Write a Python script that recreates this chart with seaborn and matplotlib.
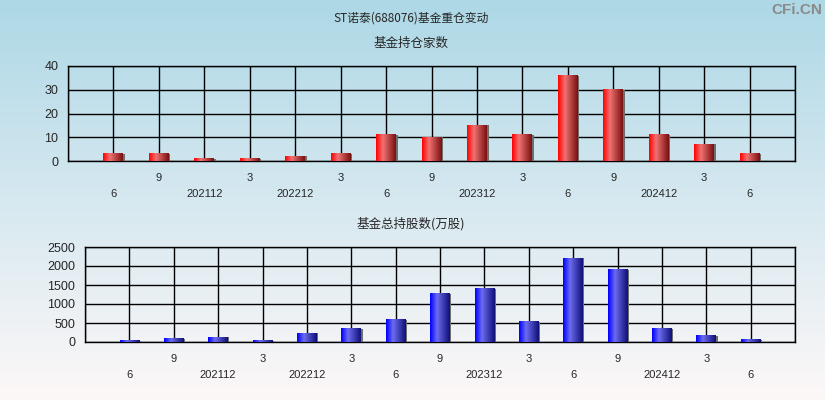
import numpy as np
import pandas as pd
import matplotlib
matplotlib.use('Agg')
import matplotlib.pyplot as plt
import seaborn as sns
from matplotlib.colors import LinearSegmentedColormap
from matplotlib.patches import Rectangle

# datos
periods = ['6', '9', '202112', '3', '202212', '3', '6', '9', '202312', '3', '6', '9', '202412', '3', '6']
fund_count = [3, 3, 1, 1, 2, 3, 11, 10, 15, 11, 36, 30, 11, 7, 3]
fund_shares = [35, 87, 120, 30, 225, 355, 590, 1265, 1400, 530, 2210, 1895, 350, 165, 60]

sns.set_style('white')
plt.rcParams['font.family'] = ['Liberation Sans', 'DejaVu Sans']
cjk = ['Noto Sans CJK SC', 'DejaVu Sans']

W, H = 825, 400
fig = plt.figure(figsize=(W / 100, H / 100), dpi=100)

# fondo degradado azul claro -> casi blanco
bg = fig.add_axes([0, 0, 1, 1], zorder=-10)
bg_cmap = LinearSegmentedColormap.from_list('bg', ['#add8e6', '#d6e8f0', '#fdf8f8'])
bg.imshow(np.linspace(0, 1, 256).reshape(-1, 1), cmap=bg_cmap, aspect='auto', extent=(0, 1, 0, 1))
bg.set_axis_off()

red_cmap = LinearSegmentedColormap.from_list('red', [(0, '#ff0000'), (0.35, '#f07272'), (1, '#7a1010')])
blue_cmap = LinearSegmentedColormap.from_list('blue', [(0, '#0000ff'), (0.35, '#6c6cf0'), (1, '#101078')])


def px(l, t, r, b):
    return [l / W, 1 - b / H, (r - l) / W, (b - t) / H]


def panel(ax, values, cmap, ymax, ystep):
    df = pd.DataFrame({'pos': np.arange(1, len(values) + 1), 'val': values})
    sns.barplot(data=df, x='pos', y='val', native_scale=True, orient='x', width=0.44, ax=ax, zorder=3)
    grad = np.linspace(0, 1, 64).reshape(1, -1)
    bars = list(ax.patches)
    for p in bars:
        x0, y0, w, h = p.get_x(), p.get_y(), p.get_width(), p.get_height()
        p.set_facecolor('none')
        p.set_edgecolor('none')
        ax.imshow(grad, cmap=cmap, aspect='auto', extent=(x0, x0 + w, y0, y0 + h), zorder=3)
        ax.add_patch(Rectangle((x0 + w, y0), 0.035, h, color='#6e6e6e', zorder=2.9, lw=0))
    ax.set_xlim(0, len(values) + 1)
    ax.set_ylim(0, ymax)
    ax.set_facecolor('none')
    ax.set_xlabel('')
    ax.set_ylabel('')

    n = len(values)
    major = np.arange(0, n + 2, 2)
    minor = np.arange(1, n + 1, 2)
    ax.set_xticks(major)
    ax.set_xticklabels(['' if (i == 0 or i == n + 1) else periods[i - 1] for i in major])
    ax.set_xticks(minor, minor=True)
    ax.set_xticklabels([periods[i - 1] for i in minor], minor=True)
    ax.tick_params(axis='x', which='major', length=4, width=1, color='black', pad=4.5, labelsize=8)
    ax.tick_params(axis='x', which='minor', length=4, width=1, color='black', pad=16, labelsize=8)
    ax.set_yticks(np.arange(0, ymax + 1, ystep))
    ax.tick_params(axis='y', length=6, width=1, color='black', pad=1, labelsize=9)
    ax.grid(True, which='both', color='black', linewidth=1)
    ax.set_axisbelow(True)
    for s in ax.spines.values():
        s.set_color('black')
        s.set_linewidth(1)


ax1 = fig.add_axes(px(68, 66, 795, 161))
panel(ax1, fund_count, red_cmap, 40, 10)

ax2 = fig.add_axes(px(85, 247, 795, 342))
panel(ax2, fund_shares, blue_cmap, 2500, 500)

fig.text(411 / W, 1 - 18 / H, 'ST诺泰(688076)基金重仓变动', ha='center', va='center', fontsize=8.5, family=cjk)
fig.text(411 / W, 1 - 43 / H, '基金持仓家数', ha='center', va='center', fontsize=9, family=cjk)
fig.text(411 / W, 1 - 224 / H, '基金总持股数(万股)', ha='center', va='center', fontsize=9, family=cjk)
fig.text(822 / W, 1 - 10 / H, 'CFi.CN', ha='right', va='center', fontsize=11, fontweight='bold', color='#8a8a8a')

plt.savefig('out.png', dpi=100)
